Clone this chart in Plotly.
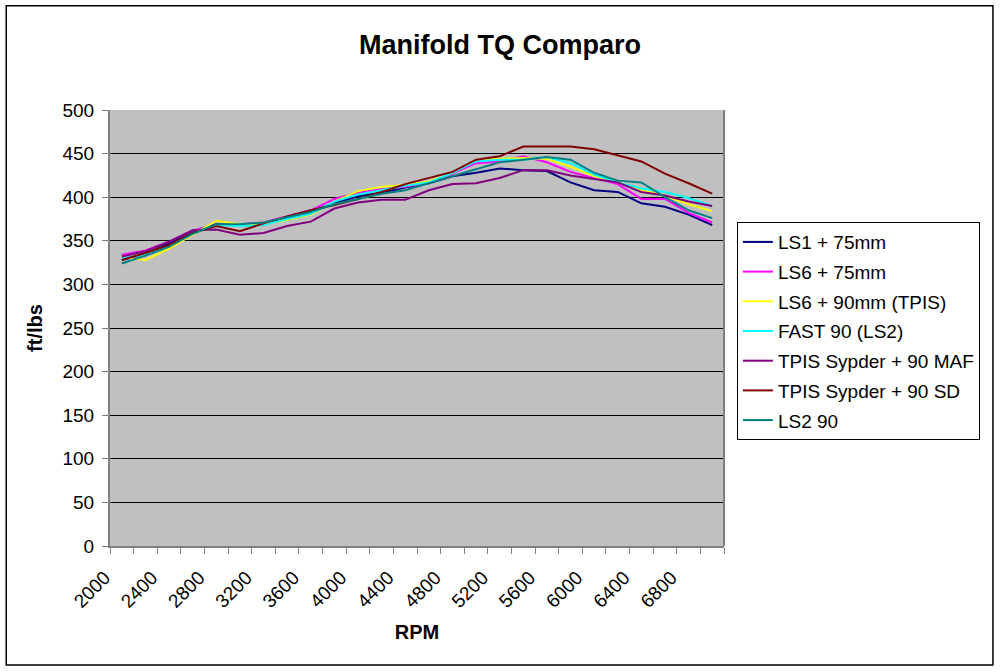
"""Manifold torque comparison, Excel-style line chart."""

import plotly.graph_objects as go

rpm = list(range(2000, 7001, 200))

ls1_75 = [328, 335, 347, 361, 369, 368, 370, 377, 384, 393, 401, 405, 411,
          416, 424, 428, 433, 431, 430, 417, 408, 406, 393, 389, 380, 368]
ls6_75 = [334, 339, 349, 362, 368, 369, 371, 378, 385, 398, 405, 409, 412,
          417, 427, 439, 441, 447, 440, 429, 422, 415, 398, 398, 382, 371]
ls6_90 = [331, 328, 341, 357, 373, 369, 369, 374, 380, 395, 407, 412, 414,
          418, 428, 443, 444, 445, 444, 435, 424, 418, 408, 402, 392, 384]
fast_90 = [330, 334, 344, 359, 368, 367, 368, 375, 381, 395, 403, 408, 413,
           417, 428, 441, 443, 443, 446, 439, 426, 417, 410, 406, 399, 390]
tpis_maf = [332, 338, 349, 362, 363, 357, 359, 367, 372, 387, 394, 397, 397,
            408, 415, 416, 422, 431, 431, 425, 421, 417, 406, 402, 395, 390]
tpis_sd = [328, 336, 345, 359, 367, 361, 370, 378, 385, 391, 398, 406, 415,
           422, 429, 443, 447, 458, 458, 458, 455, 448, 441, 427, 416, 404]
ls2_90 = [324, 333, 343, 358, 369, 369, 371, 377, 383, 392, 398, 404, 408,
          416, 424, 432, 440, 443, 446, 443, 428, 419, 417, 400, 385, 376]

series = [
    ("LS1 + 75mm", ls1_75, "#000080"),
    ("LS6 + 75mm", ls6_75, "#FF00FF"),
    ("LS6 + 90mm (TPIS)", ls6_90, "#FFFF00"),
    ("FAST 90 (LS2)", fast_90, "#00FFFF"),
    ("TPIS Sypder + 90 MAF", tpis_maf, "#800080"),
    ("TPIS Sypder + 90 SD", tpis_sd, "#800000"),
    ("LS2 90", ls2_90, "#008080"),
]

tick_rpm = list(range(2000, 7000, 400))
font = "Liberation Sans, Arial, sans-serif"

fig = go.Figure()

for i, (name, vals, color) in enumerate(series):
    fig.add_trace(go.Scatter(x=rpm, y=vals, name=name, mode="lines",
                             legendgroup=str(i),
                             line=dict(color=color, width=2)))

fig.update_layout(
    width=1000, height=672,
    margin=dict(l=110, r=276, t=110, b=126),
    paper_bgcolor="white",
    plot_bgcolor="#C0C0C0",
    font=dict(family=font, color="black", size=19),
    title=dict(text="<b>Manifold TQ Comparo</b>", x=0.5, xanchor="center",
               y=0.933, yanchor="middle", font=dict(size=27)),
    showlegend=True,
    legend=dict(x=1.021, y=0.743, xanchor="left", yanchor="top",
                bordercolor="black", borderwidth=1, bgcolor="white",
                font=dict(size=19), tracegroupgap=2, itemwidth=30),
    xaxis=dict(range=[1900, 7100], tickmode="array", tickvals=tick_rpm,
               ticktext=[str(v) for v in tick_rpm], tickangle=-45,
               ticks="", ticklabelshift=-17, ticklabelstandoff=11,
               showgrid=False, zeroline=False,
               showline=True, linecolor="#808080", linewidth=2,
               minor=dict(tick0=1900, dtick=200, ticks="outside",
                          ticklen=6, tickcolor="#808080", showgrid=False),
               title=dict(text="<b>RPM</b>", font=dict(size=20),
                          standoff=14)),
    yaxis=dict(range=[0, 500], dtick=50, ticks="outside", ticklen=6,
               tickcolor="#808080", showgrid=True, gridcolor="black",
               gridwidth=1, zeroline=False, showline=True,
               linecolor="#808080", linewidth=2, ticklabelstandoff=4,
               title=dict(text="<b>ft/lbs</b>", font=dict(size=20),
                          standoff=14)),
    shapes=[
        # plot area right edge
        dict(type="line", xref="paper", yref="paper", x0=1, x1=1, y0=0, y1=1,
             line=dict(color="#808080", width=2)),
        # outer chart border
        dict(type="rect", xref="paper", yref="paper",
             x0=-0.169, x1=1.438, y0=-0.273, y1=1.239,
             line=dict(color="black", width=1.5)),
    ],
)

# page body has a default margin; drop it so the chart sits at 0,0
fig.write_html("out.html", config={"displayModeBar": False},
               post_script="document.body.style.margin='0';")
